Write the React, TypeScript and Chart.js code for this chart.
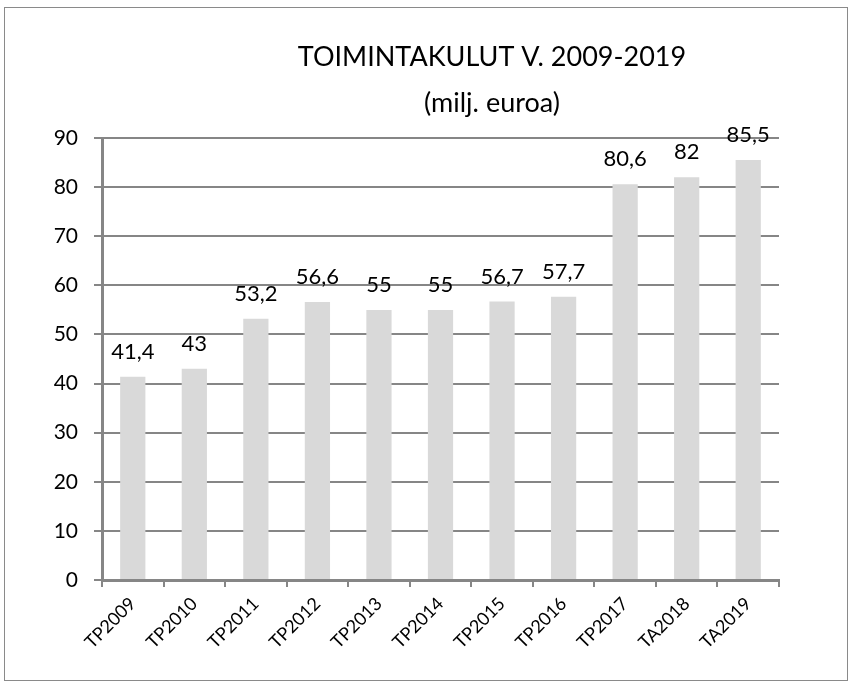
import React, { useEffect, useRef } from "react";
import { Chart, registerables } from "chart.js";

Chart.register(...registerables);

const categories = ["TP2009", "TP2010", "TP2011", "TP2012", "TP2013", "TP2014", "TP2015", "TP2016", "TP2017", "TA2018", "TA2019"];
const values = [41.4, 43, 53.2, 56.6, 55, 55, 56.7, 57.7, 80.6, 82, 85.5];
const titleLines = ["TOIMINTAKULUT V. 2009-2019", "(milj. euroa)"];
const yMin = 0;
const yMax = 90;
const yStep = 10;

const FONT = "Lato, 'Open Sans', sans-serif";

const labelPlugin = {
  id: "valueLabels",
  afterDatasetsDraw(chart: any) {
    const ctx = chart.ctx;
    const meta = chart.getDatasetMeta(0);
    ctx.save();
    ctx.font = `22px ${FONT}`;
    ctx.fillStyle = "#000";
    ctx.textAlign = "center";
    ctx.textBaseline = "alphabetic";
    meta.data.forEach((bar: any, i: number) => {
      const txt = String(values[i]).replace(".", ",");
      ctx.fillText(txt, bar.x, bar.y - 18);
    });
    ctx.restore();
  },
};

const titlePlugin = {
  id: "customTitle",
  afterDraw(chart: any) {
    const ctx = chart.ctx;
    ctx.save();
    ctx.font = `27px ${FONT}`;
    ctx.fillStyle = "#000";
    ctx.textAlign = "center";
    ctx.textBaseline = "alphabetic";
    ctx.fillText(titleLines[0], 492, 66);
    ctx.fillText(titleLines[1], 492, 112);
    ctx.restore();
  },
};

export default function App() {
  const canvasRef = useRef<HTMLCanvasElement | null>(null);

  useEffect(() => {
    document.body.style.margin = "0";
    const canvas = canvasRef.current;
    if (!canvas) return;
    const chart = new Chart(canvas, {
      type: "bar",
      data: {
        labels: categories,
        datasets: [
          {
            data: values,
            backgroundColor: "#d9d9d9",
            borderWidth: 0,
            categoryPercentage: 1,
            barPercentage: 0.41,
          },
        ],
      },
      options: {
        animation: false,
        responsive: false,
        maintainAspectRatio: false,
        layout: { padding: { left: 0, top: 138, right: 75, bottom: 0 } },
        plugins: {
          legend: { display: false },
          title: { display: false },
          tooltip: { enabled: false },
        },
        scales: {
          x: {
            grid: {
              display: true,
              drawOnChartArea: false,
              drawTicks: true,
              tickLength: 7,
              color: "#868686",
              lineWidth: 2,
              offset: true,
            },
            border: { display: true, color: "#868686", width: 3 },
            ticks: {
              color: "#000",
              font: { family: FONT, size: 18 },
              minRotation: 45,
              maxRotation: 45,
              padding: 6,
              autoSkip: false,
            },
            afterFit(scale: any) {
              scale.height = 108;
            },
          },
          y: {
            min: yMin,
            max: yMax,
            grid: {
              color: "#868686",
              lineWidth: 2,
              drawTicks: true,
              tickLength: 8,
            },
            border: { display: true, color: "#868686", width: 3 },
            ticks: {
              stepSize: yStep,
              color: "#000",
              font: { family: FONT, size: 21 },
              padding: 16,
            },
            afterFit(scale: any) {
              scale.width = 102;
            },
          },
        },
      },
      plugins: [labelPlugin, titlePlugin],
    });
    return () => chart.destroy();
  }, []);

  return (
    <div style={{ position: "relative", width: 854, height: 688, background: "#fff" }}>
      <canvas ref={canvasRef} width={854} height={688} style={{ position: "absolute", left: 0, top: 0 }} />
      <div
        style={{
          position: "absolute",
          left: 4,
          top: 7,
          width: 842,
          height: 672,
          border: "1.5px solid #8a8a8a",
          pointerEvents: "none",
        }}
      />
    </div>
  );
}
